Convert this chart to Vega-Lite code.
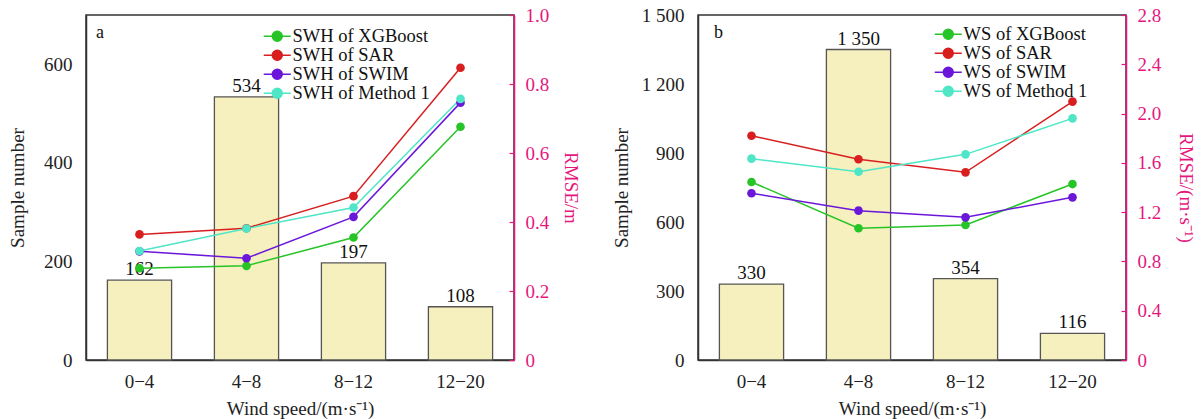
{
  "$schema": "https://vega.github.io/schema/vega-lite/v6.json",
  "padding": {"left": 7, "top": 5, "right": 5, "bottom": 5},
  "background": "white",
  "datasets": {
    "barsA": [
      {"cat": "0−4", "count": 162},
      {"cat": "4−8", "count": 534},
      {"cat": "8−12", "count": 197},
      {"cat": "12−20", "count": 108}
    ],
    "linesA": [
      {"cat": "0−4", "series": "SWH of XGBoost", "rmse": 0.266},
      {"cat": "4−8", "series": "SWH of XGBoost", "rmse": 0.273},
      {"cat": "8−12", "series": "SWH of XGBoost", "rmse": 0.355},
      {"cat": "12−20", "series": "SWH of XGBoost", "rmse": 0.676},
      {"cat": "0−4", "series": "SWH of SAR", "rmse": 0.364},
      {"cat": "4−8", "series": "SWH of SAR", "rmse": 0.382},
      {"cat": "8−12", "series": "SWH of SAR", "rmse": 0.475},
      {"cat": "12−20", "series": "SWH of SAR", "rmse": 0.847},
      {"cat": "0−4", "series": "SWH of SWIM", "rmse": 0.315},
      {"cat": "4−8", "series": "SWH of SWIM", "rmse": 0.295},
      {"cat": "8−12", "series": "SWH of SWIM", "rmse": 0.415},
      {"cat": "12−20", "series": "SWH of SWIM", "rmse": 0.746},
      {"cat": "0−4", "series": "SWH of Method 1", "rmse": 0.316},
      {"cat": "4−8", "series": "SWH of Method 1", "rmse": 0.381},
      {"cat": "8−12", "series": "SWH of Method 1", "rmse": 0.442},
      {"cat": "12−20", "series": "SWH of Method 1", "rmse": 0.757}
    ],
    "barsB": [
      {"cat": "0−4", "count": 330},
      {"cat": "4−8", "count": 1350},
      {"cat": "8−12", "count": 354},
      {"cat": "12−20", "count": 116}
    ],
    "linesB": [
      {"cat": "0−4", "series": "WS of XGBoost", "rmse": 1.445},
      {"cat": "4−8", "series": "WS of XGBoost", "rmse": 1.069},
      {"cat": "8−12", "series": "WS of XGBoost", "rmse": 1.096},
      {"cat": "12−20", "series": "WS of XGBoost", "rmse": 1.428},
      {"cat": "0−4", "series": "WS of SAR", "rmse": 1.82},
      {"cat": "4−8", "series": "WS of SAR", "rmse": 1.629},
      {"cat": "8−12", "series": "WS of SAR", "rmse": 1.523},
      {"cat": "12−20", "series": "WS of SAR", "rmse": 2.097},
      {"cat": "0−4", "series": "WS of SWIM", "rmse": 1.353},
      {"cat": "4−8", "series": "WS of SWIM", "rmse": 1.212},
      {"cat": "8−12", "series": "WS of SWIM", "rmse": 1.158},
      {"cat": "12−20", "series": "WS of SWIM", "rmse": 1.32},
      {"cat": "0−4", "series": "WS of Method 1", "rmse": 1.634},
      {"cat": "4−8", "series": "WS of Method 1", "rmse": 1.528},
      {"cat": "8−12", "series": "WS of Method 1", "rmse": 1.669},
      {"cat": "12−20", "series": "WS of Method 1", "rmse": 1.961}
    ]
  },
  "hconcat": [
    {
      "width": 428,
      "height": 345,
      "title": {"text": "a", "anchor": "start", "frame": "group", "offset": -36, "dx": 10, "fontSize": 18, "fontWeight": "normal", "font": "Liberation Serif, Times New Roman, serif", "color": "#111"},
      "layer": [
        {
          "data": {"name": "barsA"},
          "encoding": {
            "x": {"field": "cat", "type": "nominal", "sort": null, "scale": {"paddingInner": 0.4, "paddingOuter": 0.2},
              "axis": {"title": "Wind speed/(m·s⁻¹)", "labelAngle": 0, "tickSize": -5, "labelPadding": 17, "titlePadding": 8}},
            "y": {"field": "count", "type": "quantitative", "scale": {"domain": [0, 700]},
              "axis": {"title": "Sample number", "values": [0, 200, 400, 600], "ticks": false, "labelPadding": 14, "titlePadding": 16}}
          },
          "layer": [
            {"mark": {"type": "bar", "fill": "#F6F0BE", "stroke": "#555", "strokeWidth": 1.3}},
            {"mark": {"type": "text", "baseline": "bottom", "dy": -1, "fontSize": 19, "font": "Liberation Serif, Times New Roman, serif", "color": "#111"},
              "encoding": {"text": {"field": "count", "type": "quantitative", "format": ",d"}}}
          ]
        },
        {
          "data": {"name": "linesA"},
          "mark": {"type": "line", "strokeWidth": 1.5, "point": {"filled": true, "size": 75}},
          "encoding": {
            "x": {"field": "cat", "type": "nominal", "sort": null},
            "y": {"field": "rmse", "type": "quantitative", "scale": {"domain": [0, 1]},
              "axis": {"orient": "right", "title": "RMSE/m", "values": [0, 0.2, 0.4, 0.6, 0.8, 1.0],
                "labelExpr": "datum.value == 0 ? '0' : format(datum.value, '.1f')",
                "domainColor": "#E5177E", "tickColor": "#E5177E", "labelColor": "#E5177E", "titleColor": "#E5177E",
                "tickSize": -5, "labelPadding": 16, "titlePadding": 12}},
            "color": {"field": "series", "type": "nominal", "sort": null,
              "scale": {"domain": ["SWH of XGBoost", "SWH of SAR", "SWH of SWIM", "SWH of Method 1"], "range": ["#27C427", "#D81E1E", "#6B17D9", "#4EE6C6"]},
              "legend": {"title": null, "orient": "none", "legendX": 182, "legendY": 12}}
          }
        }
      ],
      "resolve": {"scale": {"y": "independent"}}
    },
    {
      "width": 428,
      "height": 345,
      "title": {"text": "b", "anchor": "start", "frame": "group", "offset": -36, "dx": 16, "fontSize": 18, "fontWeight": "normal", "font": "Liberation Serif, Times New Roman, serif", "color": "#111"},
      "layer": [
        {
          "data": {"name": "barsB"},
          "encoding": {
            "x": {"field": "cat", "type": "nominal", "sort": null, "scale": {"paddingInner": 0.4, "paddingOuter": 0.2},
              "axis": {"title": "Wind speed/(m·s⁻¹)", "labelAngle": 0, "tickSize": -5, "labelPadding": 17, "titlePadding": 8}},
            "y": {"field": "count", "type": "quantitative", "scale": {"domain": [0, 1500]},
              "axis": {"title": "Sample number", "values": [0, 300, 600, 900, 1200, 1500], "format": ",d", "ticks": false, "labelPadding": 14, "titlePadding": 10}}
          },
          "layer": [
            {"mark": {"type": "bar", "fill": "#F6F0BE", "stroke": "#555", "strokeWidth": 1.3}},
            {"mark": {"type": "text", "baseline": "bottom", "dy": -1, "fontSize": 19, "font": "Liberation Serif, Times New Roman, serif", "color": "#111"},
              "encoding": {"text": {"field": "count", "type": "quantitative", "format": ",d"}}}
          ]
        },
        {
          "data": {"name": "linesB"},
          "mark": {"type": "line", "strokeWidth": 1.5, "point": {"filled": true, "size": 75}},
          "encoding": {
            "x": {"field": "cat", "type": "nominal", "sort": null},
            "y": {"field": "rmse", "type": "quantitative", "scale": {"domain": [0, 2.8]},
              "axis": {"orient": "right", "title": "RMSE/(m·s⁻¹)", "values": [0, 0.4, 0.8, 1.2, 1.6, 2.0, 2.4, 2.8],
                "labelExpr": "datum.value == 0 ? '0' : format(datum.value, '.1f')",
                "domainColor": "#E5177E", "tickColor": "#E5177E", "labelColor": "#E5177E", "titleColor": "#E5177E",
                "tickSize": -5, "labelPadding": 16, "titlePadding": 15}},
            "color": {"field": "series", "type": "nominal", "sort": null,
              "scale": {"domain": ["WS of XGBoost", "WS of SAR", "WS of SWIM", "WS of Method 1"], "range": ["#27C427", "#D81E1E", "#6B17D9", "#4EE6C6"]},
              "legend": {"title": null, "orient": "none", "legendX": 241, "legendY": 10}}
          }
        }
      ],
      "resolve": {"scale": {"y": "independent"}}
    }
  ],
  "spacing": 30,
  "resolve": {"scale": {"color": "independent"}, "legend": {"color": "independent"}},
  "config": {
    "font": "Liberation Serif, Times New Roman, serif",
    "view": {"stroke": "#333", "strokeWidth": 1.5},
    "axis": {
      "labelFont": "Liberation Serif, Times New Roman, serif", "labelFontSize": 19, "labelColor": "#222",
      "titleFont": "Liberation Serif, Times New Roman, serif", "titleFontSize": 19, "titleFontWeight": "normal", "titleColor": "#222",
      "domainColor": "#333", "domainWidth": 1.5, "tickColor": "#333", "tickWidth": 1.2, "grid": false
    },
    "legend": {
      "labelFont": "Liberation Serif, Times New Roman, serif", "labelFontSize": 18.5, "labelColor": "#111",
      "rowPadding": -3.5, "symbolType": "M-2.25,0H2.25M-0.83,0A0.83,0.83 0 1 1 0.83,0A0.83,0.83 0 1 1 -0.83,0Z",
      "symbolSize": 144, "symbolStrokeWidth": 1.5, "labelOffset": 6, "padding": 0
    },
    "locale": {"number": {"decimal": ".", "thousands": " ", "grouping": [3], "currency": ["", ""]}}
  }
}
